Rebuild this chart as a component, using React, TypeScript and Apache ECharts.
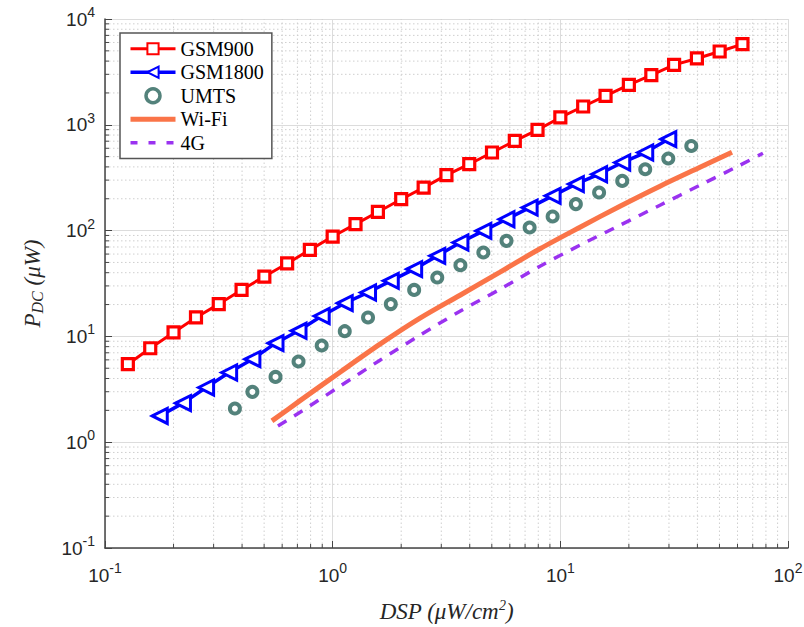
import React, { useEffect, useRef } from "react";
import * as echarts from "echarts";

// ---- data ----
const GSM900_X = [0.126, 0.158, 0.2, 0.251, 0.316, 0.398, 0.501, 0.631, 0.794, 1.0, 1.26, 1.58, 2.0, 2.51, 3.16, 3.98, 5.01, 6.31, 7.94, 10, 12.6, 15.8, 20, 25.1, 31.6, 39.8, 50.1, 63.1];
const GSM900_Y = [5.46, 7.73, 10.9, 15.1, 20.2, 27.5, 36.8, 48.9, 65.7, 87.9, 115, 150, 198, 255, 334, 424, 547, 704, 895, 1173, 1489, 1875, 2383, 2942, 3681, 4236, 4930, 5780];

const GSM1800_X = [0.174, 0.22, 0.278, 0.351, 0.444, 0.561, 0.708, 0.895, 1.13, 1.43, 1.8, 2.28, 2.88, 3.64, 4.59, 5.8, 7.33, 9.25, 11.7, 14.8, 18.7, 23.6, 29.8];
const GSM1800_Y = [1.77, 2.34, 3.29, 4.56, 6.09, 8.63, 11.3, 15.6, 20.6, 26.0, 33.5, 43.2, 57.7, 77.2, 99.4, 128, 165, 213, 275, 341, 440, 547, 731];

const UMTS_X = [0.372, 0.444, 0.561, 0.708, 0.895, 1.13, 1.43, 1.8, 2.28, 2.88, 3.64, 4.59, 5.8, 7.33, 9.25, 11.7, 14.8, 18.7, 23.6, 29.8, 37.6];
const UMTS_Y = [2.08, 2.99, 4.14, 5.79, 8.2, 11.2, 15.1, 20.2, 27.5, 36.0, 47.1, 62.1, 80.0, 107, 136, 178, 229, 295, 380, 480, 631];

const WIFI_X = [0.541, 0.719, 1.077, 1.614, 2.419, 3.625, 5.433, 8.14, 12.2, 18.28, 27.4, 41.06, 56.75];
const WIFI_Y = [1.59, 2.47, 4.59, 8.44, 14.86, 24.5, 40.5, 67.4, 107.7, 170, 263, 397, 551];

const G4_X = [0.575, 0.719, 1.077, 1.614, 2.419, 3.625, 5.433, 8.14, 12.2, 18.28, 27.4, 41.06, 61.5, 77.6];
const G4_Y = [1.42, 1.92, 3.38, 5.96, 10.26, 17.3, 27.9, 46.1, 72.8, 112.5, 173.8, 268.6, 415, 539];

const X_MIN = 0.1, X_MAX = 100;
const Y_MIN = 0.1, Y_MAX = 10000;
const MINOR_MULT = [2, 3, 4, 5, 6, 7, 8, 9];
const X_DECADES = [0.1, 1, 10];
const Y_DECADES = [0.1, 1, 10, 100, 1000];
const X_MINOR = X_DECADES.flatMap((d) => MINOR_MULT.map((m) => +(d * m).toPrecision(3)));
const Y_MINOR = Y_DECADES.flatMap((d) => MINOR_MULT.map((m) => +(d * m).toPrecision(3)));

const zip = (xs: number[], ys: number[]) => xs.map((x, i) => [x, ys[i]]);

const AXIS_COLOR = "#454545";
const TEXT_COLOR = "#262626";
const SANS = "Liberation Sans, Arial, sans-serif";
const SERIF = "Liberation Serif, Times New Roman, serif";
const UMTS_COLOR = "#28635a";

const expLabel = (v: number) => {
  const e = Math.round(Math.log10(v));
  return `{b|10}{e|${e}}`;
};
const tickRich = {
  b: { fontFamily: SANS, fontSize: 19, color: TEXT_COLOR, lineHeight: 28, verticalAlign: "middle" },
  e: { fontFamily: SANS, fontSize: 14, color: TEXT_COLOR, lineHeight: 12, verticalAlign: "top" },
};

export default function App() {
  const ref = useRef<HTMLDivElement>(null);
  useEffect(() => {
    if (!ref.current) return;
    const chart = echarts.init(ref.current, null, { renderer: "svg" });

    const minorXRender = (_p: any, api: any) => {
      const v = api.value(0);
      const b = api.coord([v, Y_MIN]);
      const t = api.coord([v, Y_MAX]);
      return {
        type: "group",
        children: [
          { type: "line", shape: { x1: b[0], y1: b[1], x2: t[0], y2: t[1] }, style: { stroke: "#cfcfcf", lineWidth: 1, lineDash: [1.5, 2.5] } },
          { type: "line", shape: { x1: b[0], y1: b[1], x2: b[0], y2: b[1] - 4 }, style: { stroke: AXIS_COLOR, lineWidth: 1 } },
        ],
      };
    };
    const minorYRender = (_p: any, api: any) => {
      const v = api.value(1);
      const l = api.coord([X_MIN, v]);
      const r = api.coord([X_MAX, v]);
      return {
        type: "group",
        children: [
          { type: "line", shape: { x1: l[0], y1: l[1], x2: r[0], y2: r[1] }, style: { stroke: "#cfcfcf", lineWidth: 1, lineDash: [1.5, 2.5] } },
          { type: "line", shape: { x1: l[0], y1: l[1], x2: l[0] + 4, y2: l[1] }, style: { stroke: AXIS_COLOR, lineWidth: 1 } },
        ],
      };
    };

    chart.setOption({
      animation: false,
      backgroundColor: "#ffffff",
      grid: { left: 105, right: 16, top: 19, bottom: 79, containLabel: false, outerBoundsMode: "none" },
      legend: {
        data: [
          { name: "GSM900", lineStyle: { width: 3, color: "#ff0000" } },
          { name: "GSM1800", lineStyle: { width: 3.5, color: "#0000ff" } },
          { name: "UMTS", itemStyle: { color: "#ffffff", borderColor: UMTS_COLOR, borderWidth: 3.5 } },
          { name: "Wi-Fi", itemStyle: { opacity: 0 }, lineStyle: { width: 5, color: "#fa7448" } },
          { name: "4G", itemStyle: { opacity: 0 }, lineStyle: { width: 3.5, color: "#9a32f0", type: [7, 11] } },
        ],
        orient: "vertical",
        left: 120,
        top: 33,
        itemWidth: 45,
        itemHeight: 14,
        itemGap: 3.5,
        padding: [5.75, 8, 5.75, 8],
        backgroundColor: "#ffffff",
        borderColor: "#555555",
        borderWidth: 1.5,
        borderRadius: 0,
        textStyle: { fontFamily: SERIF, fontSize: 20, color: "#000000" },
      },
      xAxis: {
        type: "log",
        logBase: 10,
        min: X_MIN,
        max: X_MAX,
        name: "{i|DSP (μW/cm}{s|2}{i|)}",
        nameLocation: "middle",
        nameGap: 50,
        nameTextStyle: {
          rich: {
            i: { fontFamily: SERIF, fontStyle: "italic", fontSize: 23, color: TEXT_COLOR, lineHeight: 26, verticalAlign: "middle" },
            s: { fontFamily: SERIF, fontStyle: "italic", fontSize: 14, color: TEXT_COLOR, lineHeight: 14, verticalAlign: "top" },
          },
        },
        axisLine: { show: true, lineStyle: { color: AXIS_COLOR, width: 1.5 } },
        axisTick: { show: true, inside: true, length: 7, lineStyle: { color: AXIS_COLOR } },
        axisLabel: { formatter: expLabel, rich: tickRich, margin: 13, showMinLabel: true, showMaxLabel: true },
        splitLine: { show: true, lineStyle: { color: "#dcdcdc", width: 1 } },
      },
      yAxis: {
        type: "log",
        logBase: 10,
        min: Y_MIN,
        max: Y_MAX,
        name: "{i|P}{s|DC}{i| (μW)}",
        nameLocation: "middle",
        nameRotate: 90,
        nameGap: 60,
        nameTextStyle: {
          rich: {
            i: { fontFamily: SERIF, fontStyle: "italic", fontSize: 23, color: TEXT_COLOR, lineHeight: 26, verticalAlign: "middle" },
            s: { fontFamily: SERIF, fontStyle: "italic", fontSize: 16, color: TEXT_COLOR, lineHeight: 14, verticalAlign: "bottom" },
          },
        },
        axisLine: { show: true, lineStyle: { color: AXIS_COLOR, width: 1.5 } },
        axisTick: { show: true, inside: true, length: 7, lineStyle: { color: AXIS_COLOR } },
        axisLabel: { formatter: expLabel, rich: tickRich, margin: 10, showMinLabel: true, showMaxLabel: true },
        splitLine: { show: true, lineStyle: { color: "#dcdcdc", width: 1 } },
      },
      series: [
        { type: "custom", name: "minorX", renderItem: minorXRender, data: X_MINOR.map((v) => [v, 1]), encode: { x: 0, y: 1 }, z: 0, silent: true },
        { type: "custom", name: "minorY", renderItem: minorYRender, data: Y_MINOR.map((v) => [1, v]), encode: { x: 0, y: 1 }, z: 0, silent: true },
        {
          name: "GSM900",
          type: "line",
          data: zip(GSM900_X, GSM900_Y),
          symbol: "rect",
          symbolSize: 11,
          lineStyle: { color: "#ff0000", width: 3 },
          itemStyle: { color: "#ffffff", borderColor: "#ff0000", borderWidth: 3.2 },
          z: 3,
        },
        {
          name: "GSM1800",
          type: "line",
          data: zip(GSM1800_X, GSM1800_Y),
          symbol: "triangle",
          symbolSize: [15, 15],
          symbolRotate: 90,
          lineStyle: { color: "#0000ff", width: 3.5 },
          itemStyle: { color: "#ffffff", borderColor: "#0000ff", borderWidth: 3 },
          z: 4,
        },
        {
          name: "UMTS",
          type: "scatter",
          data: zip(UMTS_X, UMTS_Y),
          symbol: "circle",
          symbolSize: 10,
          itemStyle: { color: "#ffffff", borderColor: UMTS_COLOR, borderWidth: 4 },
          z: 5,
        },
        {
          name: "Wi-Fi",
          type: "line",
          data: zip(WIFI_X, WIFI_Y),
          smooth: 0.3,
          showSymbol: false,
          symbol: "none",
          lineStyle: { color: "#fa7448", width: 5 },
          itemStyle: { color: "#fa7448" },
          z: 6,
        },
        {
          name: "4G",
          type: "line",
          data: zip(G4_X, G4_Y),
          smooth: 0.3,
          showSymbol: false,
          symbol: "none",
          lineStyle: { color: "#9a32f0", width: 3.5, type: [10, 9] },
          itemStyle: { color: "#9a32f0" },
          z: 7,
        },
      ],
    });
    return () => chart.dispose();
  }, []);
  return <div ref={ref} style={{ position: "absolute", left: 0, top: 0, width: 804, height: 627, background: "#fff" }} />;
}
